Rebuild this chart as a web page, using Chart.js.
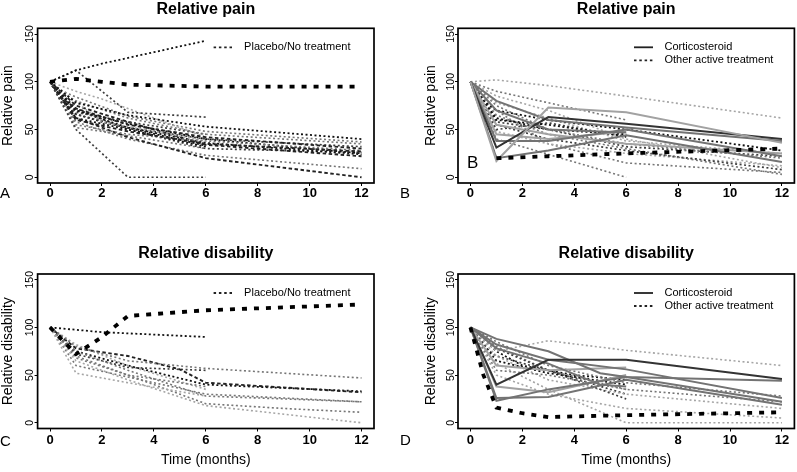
<!DOCTYPE html>
<html>
<head>
<meta charset="utf-8">
<script src="https://cdn.jsdelivr.net/npm/chart.js@4.4.1/dist/chart.umd.min.js"></script>
<style>
  html, body { margin:0; padding:0; background:#fff; }
  body { width:797px; height:472px; position:relative; overflow:hidden; }
  canvas { position:absolute; }
</style>
</head>
<body>
<canvas id="cA" width="400" height="236" style="left:0px;top:0px"></canvas>
<canvas id="cB" width="397" height="236" style="left:400px;top:0px"></canvas>
<canvas id="cC" width="400" height="236" style="left:0px;top:236px"></canvas>
<canvas id="cD" width="397" height="236" style="left:400px;top:236px"></canvas>
<script>
// ---------- DATA ----------
const xTicks = [0, 2, 4, 6, 8, 10, 12];
const yTicks = [0, 50, 100, 150];

// Panel A: relative pain, placebo / no treatment  (each series: [month, value] pairs)
const painPlacebo = [
  [[0,100],[1,112],[2,119],[4,131],[6,143]],
  [[0,100],[1,103],[2,100],[3,97],[6,95],[12,95]],
  [[0,100],[1,112],[3,68],[6,63]],
  [[0,100],[1,50],[3,0],[6,0]],
  [[0,100],[1,78],[3,65],[6,53],[12,40]],
  [[0,100],[0.5,88],[1,80],[3,62],[6,45],[12,35]],
  [[0,100],[0.5,82],[1,72],[3,55],[6,42],[12,30]],
  [[0,100],[1,60],[3,48],[6,35],[12,27]],
  [[0,100],[1,55],[3,45],[6,38],[12,28]],
  [[0,100],[1,70],[3,56],[6,40],[12,25]],
  [[0,100],[1,62],[3,42],[6,20],[12,0]],
  [[0,100],[1,58],[3,40],[6,23],[12,9]],
  [[0,100],[1,68],[3,58],[6,45]],
  [[0,100],[2,58],[6,38]],
  [[0,100],[1,90],[2,82],[6,42]],
  [[0,100],[0.5,80],[1,70],[3,52],[6,36],[12,24]],
  [[0,100],[1,66],[3,52],[6,40],[12,32]],
  [[0,100],[1,62],[2,56],[6,32]],
  [[0,100],[0.5,90],[1,84],[3,64],[6,48],[12,37]],
  [[0,100],[1,75],[3,58],[6,34],[12,22]],
  [[0,100],[0.25,88],[0.5,78],[1,66],[2,58],[6,33]],
  [[0,100],[1,72],[3,50],[6,30],[12,26]],
  [[0,100],[1,52],[2,48],[6,30]]
];
const painPlaceboKind = ['k','K','d','d','k','g','kd','kd','g','k','kd','g','d','l','l','k','d','k','g','kd','k','d','g'];

// Panel B: relative pain, corticosteroid (solid) and other active treatment (dotted)
const painActive = [
  [[0,100],[1,17],[3,73],[6,68],[12,36]],
  [[0,100],[1,31],[3,63],[6,56],[12,40]],
  [[0,100],[1,38],[3,38],[6,50],[12,22]],
  [[0,100],[1,20],[3,28],[6,44],[12,16]],
  [[0,100],[1,80],[3,60],[6,52],[12,38]],
  [[0,100],[1,55],[3,45],[6,35],[12,25]],
  [[0,100],[1,70],[3,50],[6,47]],
  [[0,100],[1,45],[3,40],[6,48]],
  [[0,100],[1,102],[3,96],[6,85],[12,62]],
  [[0,100],[1,90],[3,78],[6,60]],
  [[0,100],[1,20]],
  [[1,20],[3,22],[6,25],[12,30]],
  [[0,100],[1,40],[6,0]],
  [[0,100],[1,60],[3,55],[6,43]],
  [[0,100],[1,50],[3,57],[6,42]],
  [[0,100],[0.5,80],[1,70],[3,60],[6,50],[12,28]],
  [[0,100],[1,75],[3,50],[6,35],[12,20]],
  [[0,100],[1,85],[3,70],[6,40],[12,10]],
  [[0,100],[1,65],[3,45],[6,30],[12,3]],
  [[0,100],[1,55],[3,40],[6,28],[12,8]],
  [[0,100],[1,48],[3,35],[6,25],[12,12]],
  [[0,100],[1,70],[3,35],[6,15],[12,5]],
  [[0,100],[1,62],[3,50],[6,45]],
  [[0,100],[1,78],[3,62],[6,38],[12,25]],
  [[0,100],[0.5,75],[1,58],[3,50],[6,32],[12,22]]
];
const painActiveKind = ['Sl','S','Sg','Sg','Sg','Sl','Sg','Sl','l','g','d','K','g','k','d','k','g','l','g','d','l','g','k','l','d'];

// Panel C: relative disability, placebo / no treatment
const disPlacebo = [
  [[0,100],[1,72],[2,90],[3,112],[4,114],[6,118],[12,124]],
  [[0,100],[2,95],[6,90]],
  [[0,100],[1,52],[3,42],[6,28]],
  [[0,100],[1,80],[3,65],[6,57],[12,47]],
  [[0,100],[1,78],[3,70],[4,63],[5,56],[6,42],[12,32]],
  [[0,100],[1,75],[3,55],[6,28],[12,22]],
  [[0,100],[1,70],[3,50],[6,20],[9,15],[12,11]],
  [[0,100],[1,65],[3,45],[6,18],[12,0]],
  [[0,100],[1,72],[3,58],[6,55]],
  [[0,100],[1,68],[3,50],[6,38]],
  [[0,100],[1,82],[3,60],[6,35]],
  [[0,100],[0.5,85],[1,75],[3,60],[6,40],[12,33]],
  [[0,100],[1,60],[3,48],[6,30],[12,22]]
];
const disPlaceboKind = ['K','k','l','g','kd','g','g','l','d','g','l','k','g'];

// Panel D: relative disability, corticosteroid (solid) and other active treatment (dotted)
const disActive = [
  [[0,100],[1,40],[3,66],[6,66],[12,46]],
  [[0,100],[1,88],[3,75],[5,52],[6,48],[12,44]],
  [[0,100],[1,82],[3,66],[6,56],[12,26]],
  [[0,100],[1,23],[3,35],[6,48],[12,22]],
  [[0,100],[1,26],[3,27],[6,45],[12,19]],
  [[0,100],[1,38],[3,32],[6,50]],
  [[0,100],[1,78],[3,62],[5,40],[6,38]],
  [[0,100],[1,60],[3,55],[6,58]],
  [[0,100],[1,75],[3,86],[6,76],[12,60]],
  [[0,100],[0.5,50],[1,16],[2,10],[3,6],[6,8],[12,11]],
  [[0,100],[1,62],[3,35],[6,0],[12,0]],
  [[0,100],[1,65],[3,52],[6,40]],
  [[0,100],[1,78],[3,55],[6,25]],
  [[0,100],[1,55],[3,50],[6,35]],
  [[0,100],[1,70],[3,45],[6,30],[12,15]],
  [[0,100],[1,85],[3,60],[6,42],[12,28]],
  [[0,100],[1,80],[3,55],[6,35],[12,22]],
  [[0,100],[1,75],[2,60],[4,50],[6,45]],
  [[0,100],[1,50],[3,30],[6,15],[12,5]],
  [[0,100],[0.5,80],[1,70],[3,55],[6,30]]
];
const disActiveKind = ['S','Sg','Sg','Sg','Sg','Sl','Sg','Sl','l','K','l','k','d','g','l','g','g','k','l','d'];

// ---------- STYLES ----------
const STY = {
  k:  {c:'#111111', w:1.8, d:[2,2.5]},
  d:  {c:'#3e3e3e', w:1.7, d:[2,2.5]},
  g:  {c:'#767676', w:1.6, d:[2,2.5]},
  l:  {c:'#a5a5a5', w:1.6, d:[2,2.5]},
  K:  {c:'#000000', w:3.8, d:[5,7]},
  kd: {c:'#222222', w:1.9, d:[3.5,2.5]},
  S:  {c:'#333333', w:2, d:[]},
  Sg: {c:'#737373', w:2, d:[]},
  Sl: {c:'#a2a2a2', w:2, d:[]}
};
const FONT = "'Liberation Sans', Arial, Helvetica, sans-serif";
Chart.defaults.font.family = FONT;
Chart.defaults.color = '#000';

function buildDatasets(series, kinds) {
  return series.map((s, i) => {
    const st = STY[kinds[i]];
    return {
      data: s.map(p => ({x: p[0], y: p[1]})),
      borderColor: st.c, borderWidth: st.w, borderDash: st.d,
      borderCapStyle: 'butt', pointRadius: 0, tension: 0, fill: false,
      order: kinds[i] === 'K' ? -1 : 0
    };
  });
}

const decor = {
  id: 'decor',
  afterDatasetsDraw(chart, args, o) {
    const ctx = chart.ctx, a = chart.chartArea;
    ctx.save();
    ctx.strokeStyle = '#000'; ctx.lineWidth = 1.7; ctx.setLineDash([]);
    ctx.strokeRect(a.left, a.top, a.right - a.left, a.bottom - a.top);
    // rotated y tick labels (R style)
    const ys = chart.scales.y;
    ctx.fillStyle = '#000';
    ctx.font = '10.5px ' + FONT;
    ctx.textAlign = 'center'; ctx.textBaseline = 'middle';
    yTicks.forEach(v => {
      const py = ys.getPixelForValue(v);
      ctx.save(); ctx.translate(a.left - 7, py); ctx.rotate(-Math.PI/2);
      ctx.fillText(String(v), 0, 0); ctx.restore();
    });
    // legend
    ctx.font = '11px ' + FONT; ctx.textAlign = 'left';
    o.legend.forEach((it, i) => {
      const y = a.top + 19 + i * 13;
      ctx.beginPath(); ctx.lineWidth = 1.8;
      ctx.strokeStyle = '#222';
      ctx.setLineDash(it.solid ? [] : [2.5, 2.8]);
      ctx.moveTo(a.left + 176, y); ctx.lineTo(a.left + 195, y); ctx.stroke();
      ctx.setLineDash([]);
      ctx.fillText(it.label, a.left + 206.5, y);
    });
    // panel letters
    ctx.font = '15px ' + FONT; ctx.textAlign = 'left';
    ctx.fillText(o.letter, 0, o.letterY);
    if (o.inner) {
      ctx.font = '17px ' + FONT;
      ctx.fillText(o.inner, a.left + 9, a.bottom - 20);
    }
    ctx.restore();
  }
};

function makePanel(id, cfg) {
  const bottomRow = cfg.bottomRow;
  new Chart(document.getElementById(id), {
    type: 'line',
    data: { datasets: buildDatasets(cfg.series, cfg.kinds) },
    plugins: [decor],
    options: {
      responsive: false, animation: false, devicePixelRatio: 1,
      layout: { padding: { left: cfg.padL, right: cfg.padR, top: bottomRow ? 8.4 : 0, bottom: 0 } },
      plugins: {
        legend: { display: false },
        tooltip: { enabled: false },
        title: {
          display: true, text: cfg.title, fullSize: false, color: '#000',
          font: { family: FONT, size: 16, weight: 'bold' },
          padding: { top: 0, bottom: bottomRow ? 10.4 : 9.1 }
        },
        decor: { legend: cfg.legend, letter: cfg.letter, letterY: cfg.letterY, inner: cfg.inner }
      },
      scales: {
        x: {
          type: 'linear', min: -0.48, max: 12.48,
          afterBuildTicks: s => { s.ticks = xTicks.map(v => ({value: v})); },
          afterFit: s => { s.height = bottomRow ? 43.5 : 53; },
          grid: { display: true, drawOnChartArea: false, drawTicks: true, tickLength: 3, tickColor: '#000', tickWidth: 1 },
          border: { display: false },
          ticks: { color: '#000', font: { family: FONT, size: 13, weight: 'bold' }, padding: bottomRow ? 1.5 : 0, maxRotation: 0, autoSkip: false },
          title: { display: bottomRow, text: 'Time (months)', color: '#000', font: { family: FONT, size: 14 }, padding: { top: 0, bottom: 3.6 } }
        },
        y: {
          type: 'linear', min: -6, max: 156,
          afterBuildTicks: s => { s.ticks = yTicks.map(v => ({value: v})); },
          afterFit: s => { s.width = cfg.yW; },
          grid: { display: true, drawOnChartArea: false, drawTicks: true, tickLength: 3, tickColor: '#000', tickWidth: 1 },
          border: { display: false },
          ticks: { display: false },
          title: { display: true, text: cfg.yTitle, color: '#000', font: { family: FONT, size: 14 }, padding: { top: 0, bottom: 0 } }
        }
      }
    }
  });
}

const legPlacebo = [{label: 'Placebo/No treatment', solid: false}];
const legActive = [{label: 'Corticosteroid', solid: true}, {label: 'Other active treatment', solid: false}];

makePanel('cA', { series: painPlacebo, kinds: painPlaceboKind, title: 'Relative pain', yTitle: 'Relative pain',
  bottomRow: false, padL: 0, padR: 26, yW: 37.6, legend: legPlacebo, letter: 'A', letterY: 194 });
makePanel('cB', { series: painActive, kinds: painActiveKind, title: 'Relative pain', yTitle: 'Relative pain',
  bottomRow: false, padL: 23, padR: 2.6, yW: 35, legend: legActive, letter: 'B', letterY: 194, inner: 'B' });
makePanel('cC', { series: disPlacebo, kinds: disPlaceboKind, title: 'Relative disability', yTitle: 'Relative disability',
  bottomRow: true, padL: 0, padR: 26, yW: 37.6, legend: legPlacebo, letter: 'C', letterY: 206 });
makePanel('cD', { series: disActive, kinds: disActiveKind, title: 'Relative disability', yTitle: 'Relative disability',
  bottomRow: true, padL: 23, padR: 2.6, yW: 35, legend: legActive, letter: 'D', letterY: 205 });
</script>
</body>
</html>
